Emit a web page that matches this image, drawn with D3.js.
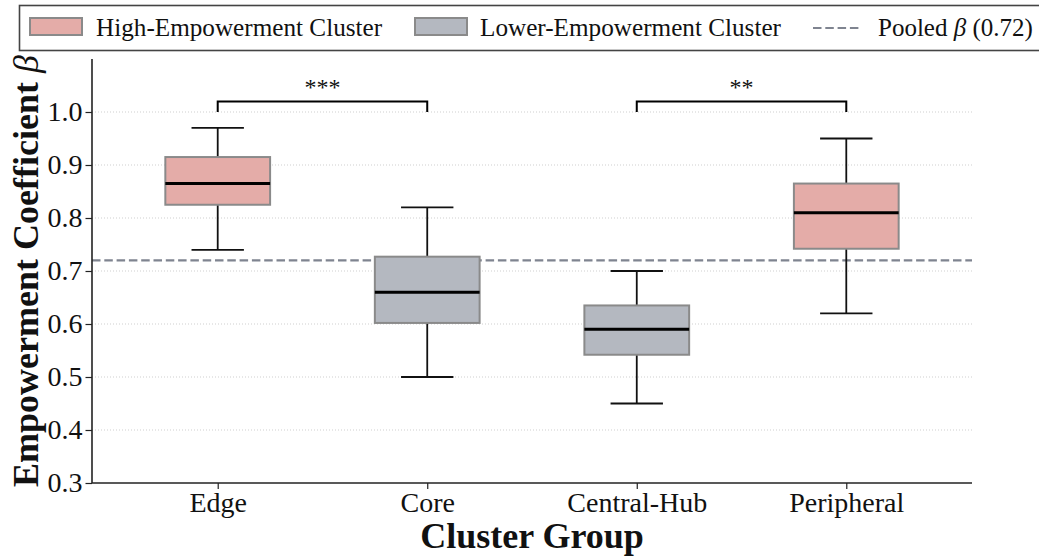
<!DOCTYPE html>
<html>
<head>
<meta charset="utf-8">
<script src="https://cdn.jsdelivr.net/npm/d3@7"></script>
<style>
  html, body { margin: 0; padding: 0; background: #fff; }
  svg { display: block; font-family: "Liberation Serif", "Times New Roman", serif; }
</style>
</head>
<body>
<svg id="chart" width="1039" height="556"></svg>
<script>
// Box-plot summaries of the empowerment coefficient per cluster group
const categories   = ["Edge", "Core", "Central-Hub", "Peripheral"];
const clusterType  = ["high", "low", "low", "high"];
const whiskerLow   = [0.74, 0.50, 0.45, 0.62];
const q1           = [0.825, 0.602, 0.542, 0.742];
const median       = [0.865, 0.66, 0.59, 0.81];
const q3           = [0.915, 0.727, 0.635, 0.865];
const whiskerHigh  = [0.97, 0.82, 0.70, 0.95];
const pooledBeta   = 0.72;
const yTicks       = [0.3, 0.4, 0.5, 0.6, 0.7, 0.8, 0.9, 1.0];
const comparisons  = [
  { from: "Edge", to: "Core", label: "***" },
  { from: "Central-Hub", to: "Peripheral", label: "**" }
];
const legendLabels = {
  high: "High-Empowerment Cluster",
  low: "Lower-Empowerment Cluster"
};

const fills = { high: "#e4aca8", low: "#b4b8c0" };
const boxEdge = "#8a8a8a";

const svg = d3.select("#chart");
const margin = { left: 92, right: 67, top: 59, bottom: 73 };
const W = 1039, H = 556;

const x = d3.scaleLinear().domain([-0.6, categories.length - 0.4]).range([margin.left, W - margin.right]);
const y = d3.scaleLinear().domain([0.3, 1.1]).range([H - margin.bottom, margin.top]);

const boxW = x(0.25) - x(0);    // half box width
const capW = x(0.125) - x(0);   // half cap width

// grid
svg.append("g").selectAll("line")
  .data(yTicks.slice(1))
  .join("line")
  .attr("x1", x.range()[0]).attr("x2", x.range()[1])
  .attr("y1", d => y(d)).attr("y2", d => y(d))
  .attr("stroke", "#cfcfcf").attr("stroke-width", 1)
  .attr("stroke-dasharray", "1,2");

// pooled reference line
svg.append("line")
  .attr("x1", x.range()[0]).attr("x2", x.range()[1])
  .attr("y1", y(pooledBeta)).attr("y2", y(pooledBeta))
  .attr("stroke", "#7f8490").attr("stroke-width", 2.2)
  .attr("stroke-dasharray", "8.5,3.8");

// boxes
const idx = d3.range(categories.length);
const g = svg.append("g");
idx.forEach(i => {
  const cx = x(i);
  const grp = g.append("g");
  // whiskers
  grp.append("line").attr("x1", cx).attr("x2", cx)
    .attr("y1", y(q3[i])).attr("y2", y(whiskerHigh[i]))
    .attr("stroke", "#111").attr("stroke-width", 1.8);
  grp.append("line").attr("x1", cx).attr("x2", cx)
    .attr("y1", y(q1[i])).attr("y2", y(whiskerLow[i]))
    .attr("stroke", "#111").attr("stroke-width", 1.8);
  grp.append("line").attr("x1", cx - capW).attr("x2", cx + capW)
    .attr("y1", y(whiskerHigh[i])).attr("y2", y(whiskerHigh[i]))
    .attr("stroke", "#111").attr("stroke-width", 1.8);
  grp.append("line").attr("x1", cx - capW).attr("x2", cx + capW)
    .attr("y1", y(whiskerLow[i])).attr("y2", y(whiskerLow[i]))
    .attr("stroke", "#111").attr("stroke-width", 1.8);
  // box
  grp.append("rect")
    .attr("x", cx - boxW).attr("width", 2 * boxW)
    .attr("y", y(q3[i])).attr("height", y(q1[i]) - y(q3[i]))
    .attr("fill", fills[clusterType[i]])
    .attr("stroke", boxEdge).attr("stroke-width", 2);
  // median
  grp.append("line").attr("x1", cx - boxW).attr("x2", cx + boxW)
    .attr("y1", y(median[i])).attr("y2", y(median[i]))
    .attr("stroke", "#000").attr("stroke-width", 3);
});

// significance brackets
comparisons.forEach(c => {
  const a = x(categories.indexOf(c.from));
  const b = x(categories.indexOf(c.to));
  svg.append("path")
    .attr("d", `M${a},${y(1.0)}V${y(1.02)}H${b}V${y(1.0)}`)
    .attr("fill", "none").attr("stroke", "#000").attr("stroke-width", 2);
  svg.append("text")
    .attr("x", (a + b) / 2).attr("y", y(1.02) - 6)
    .attr("text-anchor", "middle")
    .attr("font-size", 24).attr("fill", "#111")
    .text(c.label);
});

// axes
const yAxis = svg.append("g")
  .attr("transform", `translate(${margin.left},0)`)
  .call(d3.axisLeft(y).tickValues(yTicks).tickFormat(d3.format(".1f")).tickSize(6.5).tickPadding(3));
const xAxis = svg.append("g")
  .attr("transform", `translate(0,${H - margin.bottom})`)
  .call(d3.axisBottom(x).tickValues(idx).tickFormat(i => categories[i]).tickSize(6).tickPadding(4));

[yAxis, xAxis].forEach(ax => {
  ax.select(".domain").attr("stroke", "#222").attr("stroke-width", 1.6);
  ax.selectAll(".tick line").attr("stroke", "#222").attr("stroke-width", 1.2);
  ax.selectAll("text").attr("font-family", "Liberation Serif, serif").attr("font-size", 28).attr("fill", "#111");
});
// keep the domain lines ending at the axes limits
yAxis.select(".domain").attr("d", `M0,${y(0.3)}V${y(1.1)}`);
xAxis.select(".domain").attr("d", `M${x.range()[0]},0H${x.range()[1]}`);
xAxis.selectAll(".tick text").attr("dy", "0.68em");

// axis titles
svg.append("text")
  .attr("x", (x.range()[0] + x.range()[1]) / 2).attr("y", 548)
  .attr("text-anchor", "middle")
  .attr("font-size", 36).attr("font-weight", "bold").attr("fill", "#111")
  .text("Cluster Group");

const yt = svg.append("text")
  .attr("transform", `translate(38,${(y.range()[0] + y.range()[1]) / 2}) rotate(-90)`)
  .attr("text-anchor", "middle")
  .attr("font-size", 36).attr("font-weight", "bold").attr("fill", "#111");
yt.append("tspan").text("Empowerment Coefficient ");
yt.append("tspan").attr("font-style", "italic").attr("font-weight", "normal").text("β");

// legend
const leg = svg.append("g");
leg.append("rect")
  .attr("x", 19.5).attr("y", 5.5).attr("width", 1040).attr("height", 45)
  .attr("fill", "#fff").attr("stroke", "#444").attr("stroke-width", 1.6);

const legendItems = [
  { key: "high", px: 30, tx: 96 },
  { key: "low", px: 415, tx: 480 }
];
legendItems.forEach(it => {
  leg.append("rect")
    .attr("x", it.px).attr("y", 18).attr("width", 52).attr("height", 17)
    .attr("fill", fills[it.key]).attr("stroke", boxEdge).attr("stroke-width", 2);
  leg.append("text")
    .attr("x", it.tx).attr("y", 36)
    .attr("font-size", 25.2).attr("fill", "#111")
    .text(legendLabels[it.key]);
});
leg.append("line")
  .attr("x1", 813).attr("x2", 862).attr("y1", 28).attr("y2", 28)
  .attr("stroke", "#7f8490").attr("stroke-width", 2.2)
  .attr("stroke-dasharray", "8.5,3.8");
const pt = leg.append("text").attr("x", 878).attr("y", 36).attr("font-size", 25).attr("fill", "#111");
pt.append("tspan").text("Pooled ");
pt.append("tspan").attr("font-style", "italic").text("β");
pt.append("tspan").text(` (${pooledBeta.toFixed(2)})`);
</script>
</body>
</html>
